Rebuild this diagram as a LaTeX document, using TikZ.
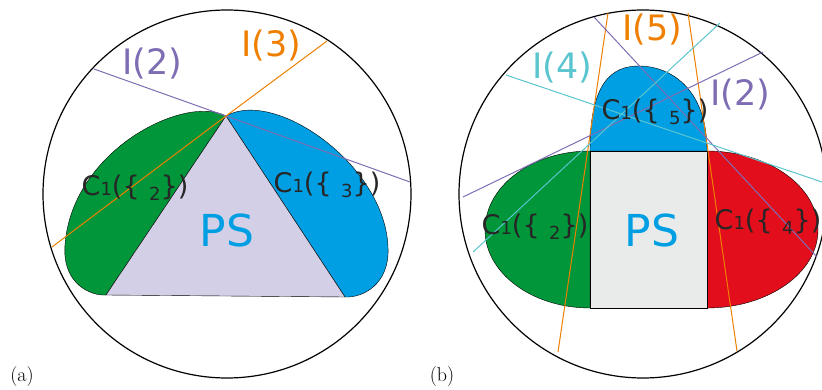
\documentclass[tikz,border=0pt]{standalone}
\usepackage{fontspec}
\usepackage{tikz}
\newfontfamily\lblfont{DejaVu Sans}
\definecolor{regA}{HTML}{009639}
\definecolor{regB}{HTML}{009FE3}
\definecolor{regR}{HTML}{E30E1C}
\definecolor{psLav}{HTML}{D2CFE6}
\definecolor{psGrey}{HTML}{E9EBEA}
\definecolor{cutOr}{HTML}{EE7F00}
\definecolor{cutPu}{HTML}{7F6DB4}
\definecolor{cutCy}{HTML}{5BC5CF}
\newcommand{\cset}[1]{C{\fontsize{18}{18}\selectfont 1}(\{\hspace{0.35em}\raisebox{-0.35ex}{\fontsize{18}{18}\selectfont #1}\})}

\begin{document}
\begin{tikzpicture}[x=1pt, y=-1pt,
    outer/.style={draw=black, line width=1.2pt},
    region/.style={draw=black, fill=#1},
    cut/.style={draw=#1, line width=1pt},
    cutlbl/.style={font=\lblfont\fontsize{35}{35}\selectfont, text=#1, inner sep=0pt},
    setlbl/.style={font=\lblfont\fontsize{27}{27}\selectfont, text=black!85, inner sep=0pt},
    pslbl/.style={font=\lblfont\fontsize{44}{44}\selectfont, text=regB, inner sep=0pt},
    panel/.style={font=\fontsize{20}{20}\selectfont, inner sep=0pt},
]
    \useasboundingbox (0,0) rectangle (822,390);

    % Panel (a)
    \draw[outer] (227,194) circle (184);
    \coordinate (apexA) at (226,116);
    \coordinate (blA) at (106,295);
    \coordinate (brA) at (345,297);
    \path[region=regA] (apexA) .. controls (185,94) and (72,150) .. (65,245)
        .. controls (62,285) and (92,296) .. (blA) -- cycle;
    \path[region=regB] (apexA) .. controls (275,88) and (385,165) .. (388,247)
        .. controls (390,285) and (362,298) .. (brA) -- cycle;
    \path[region=psLav] (apexA) -- (blA) -- (brA) -- cycle;
    \coordinate (i2a) at (94,69);
    \coordinate (i2b) at (410,182);
    \coordinate (i3a) at (52,247);
    \coordinate (i3b) at (327,41);
    \draw[cut=cutPu] (i2a) -- (apexA) -- (i2b);
    \draw[cut=cutOr] (i3a) -- (apexA) -- (i3b);
    \node[cutlbl=cutPu] (lblI2a) at (152,64) {I(2)};
    \node[cutlbl=cutOr] (lblI3a) at (271,46) {I(3)};
    \node[setlbl] (setA2) at (135,188) {\cset{2}};
    \node[setlbl] (setA3) at (327,185) {\cset{3}};
    \node[pslbl] (psA) at (227,230) {PS};
    \node[panel] (capA) at (22,377) {(a)};

    % Panel (b)
    \draw[outer] (643,194) circle (184);
    \path[region=regA] (590,151) .. controls (532,151) and (485,186) .. (485,230)
        .. controls (485,273) and (532,308) .. (590,308) -- cycle;
    \path[region=regR] (707,151) .. controls (768,151) and (818,186) .. (818,230)
        .. controls (818,273) and (768,308) .. (707,308) -- cycle;
    \path[region=regB] (590,151) .. controls (590,82) and (612,66) .. (639,66)
        .. controls (668,66) and (707,86) .. (707,151) -- cycle;
    \path[region=psGrey] (590,151) rectangle (707,308);
    \coordinate (o1a) at (608,13);
    \coordinate (o1b) at (558,352);
    \coordinate (o2a) at (688,13);
    \coordinate (o2b) at (737,351);
    \coordinate (p1a) at (594,17);
    \coordinate (p1b) at (817,257);
    \coordinate (p2a) at (463,197);
    \coordinate (p2b) at (763,52);
    \coordinate (c1a) at (506,75);
    \coordinate (c1b) at (822,182);
    \coordinate (c2a) at (473,252);
    \coordinate (c2b) at (720,23);
    \draw[cut=cutOr] (o1a) -- (o1b);
    \draw[cut=cutOr] (o2a) -- (o2b);
    \draw[cut=cutPu] (p1a) -- (p1b);
    \draw[cut=cutPu] (p2a) -- (p2b);
    \draw[cut=cutCy] (c1a) -- (c1b);
    \draw[cut=cutCy] (c2a) -- (c2b);
    \node[cutlbl=cutOr] (lblI5) at (652,30) {I(5)};
    \node[cutlbl=cutCy] (lblI4) at (562,68) {I(4)};
    \node[cutlbl=cutPu] (lblI2b) at (740,95) {I(2)};
    \node[setlbl] (setB5) at (655,112) {\cset{5}};
    \node[setlbl] (setB2) at (535,227) {\cset{2}};
    \node[setlbl] (setB4) at (768,222) {\cset{4}};
    \node[pslbl] (psB) at (652,230) {PS};
    \node[panel] (capB) at (442,377) {(b)};
\end{tikzpicture}
\end{document}
